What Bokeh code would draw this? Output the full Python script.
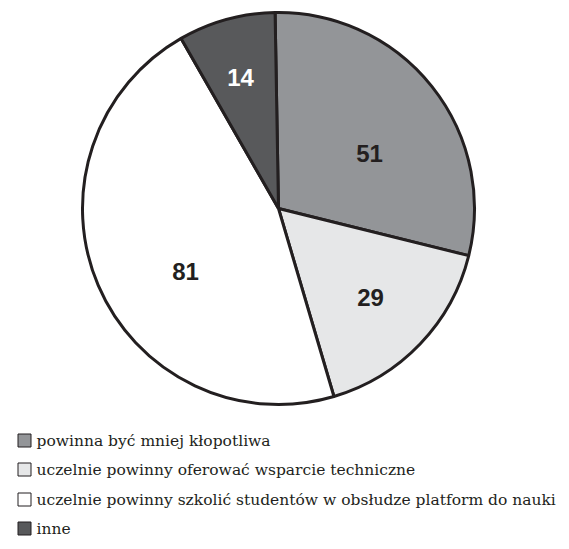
import math
from bokeh.plotting import figure
from bokeh.models import Range1d, ColumnDataSource
from bokeh.core.properties import value
from bokeh.embed import file_html
from bokeh.resources import INLINE

categories = ["powinna być mniej kłopotliwa",
              "uczelnie powinny oferować wsparcie techniczne",
              "uczelnie powinny szkolić studentów w obsłudze platform do nauki",
              "inne"]
counts = [51, 29, 81, 14]
colors = ["#939598", "#e6e7e8", "#ffffff", "#58595b"]
label_colors = ["#231f20", "#231f20", "#231f20", "#ffffff"]
label_offsets = [(91, 55), (92, -89), (-93, -63), (-38, 131)]

W, H = 561, 541
p = figure(width=W, height=H, output_backend="svg", toolbar_location=None,
           x_range=Range1d(0, W), y_range=Range1d(0, H), min_border=0)
p.axis.visible = False
p.grid.visible = False
p.outline_line_color = None

def Y(img_y):
    return H - img_y

def X(img_x):
    return img_x

cx, cy, r = X(278), Y(208), 196
total = sum(counts)
start0 = math.radians(91)
starts, ends = [], []
cum = 0
for c in counts:
    starts.append(start0 - 2 * math.pi * cum / total)
    cum += c
    ends.append(start0 - 2 * math.pi * cum / total)

src = ColumnDataSource(dict(start=starts, end=ends, color=colors))
p.wedge(x=cx, y=cy, radius=r, start_angle="start", end_angle="end",
        direction="clock", fill_color="color", line_color="#231f20",
        line_width=3, source=src)

lx = [cx + dx for dx, dy in label_offsets]
ly = [cy + dy for dx, dy in label_offsets]
lsrc = ColumnDataSource(dict(x=lx, y=ly, t=[str(c) for c in counts], c=label_colors))
p.text(x="x", y="y", text="t", text_color="c", text_align="center",
       text_baseline="middle", text_font=value("Liberation Sans"),
       text_font_style="bold", text_font_size="24px", source=lsrc)

rows = [440, 469, 499, 528]
sq = ColumnDataSource(dict(x=[X(24)] * 4, y=[Y(v) for v in rows], color=colors))
p.rect(x="x", y="y", width=13, height=13, fill_color="color",
       line_color="#231f20", line_width=1, source=sq)
tsrc = ColumnDataSource(dict(x=[X(36)] * 4, y=[Y(v) for v in rows], t=categories))
p.text(x="x", y="y", text="t", text_align="left", text_baseline="middle",
       text_font=value("DejaVu Serif"), text_font_size="15.5px",
       text_color="#231f20", source=tsrc)

open("out.html", "w").write(file_html(p, INLINE))
